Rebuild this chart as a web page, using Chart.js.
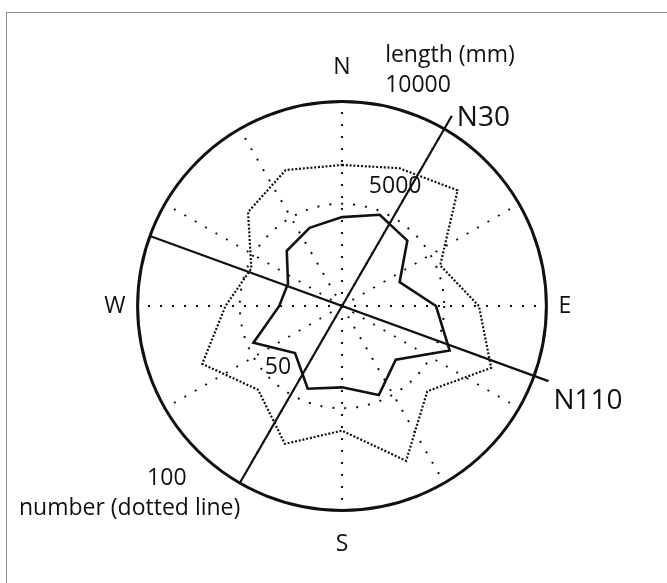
<!DOCTYPE html>
<html>
<head>
<meta charset="utf-8">
<title>Fracture rose</title>
<script src="https://cdn.jsdelivr.net/npm/chart.js@4.4.1/dist/chart.umd.min.js"></script>
<style>
    html, body { margin: 0; padding: 0; background: #fff; }
    #wrap { position: relative; width: 667px; height: 583px; overflow: hidden; }
    #frame { position: absolute; left: 6px; top: 12px; right: -10px; bottom: -10px; border: 1.5px solid #8c8c8c; }
    #rose { position: absolute; left: 0; top: 0; }
</style>
</head>
<body>
<div id="wrap">
    <div id="frame"></div>
    <canvas id="rose" width="667" height="583"></canvas>
</div>
<script>
// bins every 22.5 degrees, clockwise from north
const binAzimuths = [0, 22.5, 45, 67.5, 90, 112.5, 135, 157.5, 180, 202.5, 225, 247.5, 270, 292.5, 315, 337.5];
// cumulated length per bin (mm)
const lengthMm = [4350, 4830, 4520, 3050, 4600, 5700, 3720, 4710, 3980, 4380, 3250, 4690, 3070, 2860, 3820, 4140];
// number of fractures per bin
const fractureCount = [69, 73, 80, 52, 67, 79, 59, 82, 61, 73, 58, 74, 57, 48, 65, 72];

const compassPoints = ['N', 'E', 'S', 'W'];
const lengthTicks = [5000, 10000];
const countTicks = [50, 100];
const trendAzimuths = [30, 110];
const trendNames = ['N30', 'N110'];
// outer end / inner end of the trend lines, in mm on the length ring
const trendReach = [10750, 10000];

const STEP = 2.5;
const SLOTS = 360 / STEP;
const slotOf = az => Math.round((az % 360) / STEP) % SLOTS;

// counts share the ring with length: 100 fractures = 10000 mm
const countToRing = lengthTicks[1] / countTicks[1];

function spread(values) {
    const arr = new Array(SLOTS).fill(null);
    binAzimuths.forEach((az, i) => { arr[slotOf(az)] = values[i]; });
    return arr;
}

function trendLine(az) {
    const arr = new Array(SLOTS).fill(null);
    arr[slotOf(az)] = trendReach[0];
    arr[slotOf(az + 180)] = trendReach[1];
    return arr;
}

const labels = Array.from({ length: SLOTS }, (_, i) => i % (SLOTS / 4) === 0 ? compassPoints[i / (SLOTS / 4)] : '');

const ink = '#111';
const textFont = '"Open Sans", "Noto Sans", sans-serif';

// free text around the rose, offsets in units of the ring radius
const annotations = [
    { text: 'length (mm)', dx: 0.211, dy: -1.228, align: 'left', size: 23 },
    { text: String(lengthTicks[1]), dx: 0.211, dy: -1.078, align: 'left', size: 23 },
    { text: String(lengthTicks[0]), dx: 0.26, dy: -0.583, align: 'center', size: 23 },
    { text: String(countTicks[0]), dx: -0.313, dy: 0.301, align: 'center', size: 23 },
    { text: String(countTicks[1]), dx: -0.857, dy: 0.845, align: 'center', size: 23 },
    { text: 'number (dotted line)', dx: -1.039, dy: 0.99, align: 'center', size: 23 }
];
// where the trend names sit relative to the outer end of each line
const trendLabelOffsets = [[5, 2], [5, 20]];

const roseText = {
    id: 'roseText',
    afterDraw(chart) {
        const r = chart.scales.r;
        const ctx = chart.ctx;
        const R = r.drawingArea;
        ctx.save();
        ctx.fillStyle = ink;
        ctx.textBaseline = 'middle';
        annotations.forEach(a => {
            ctx.font = a.size + 'px ' + textFont;
            ctx.textAlign = a.align;
            ctx.fillText(a.text, r.xCenter + a.dx * R, r.yCenter + a.dy * R);
        });
        ctx.font = '28px ' + textFont;
        ctx.textAlign = 'left';
        trendAzimuths.forEach((az, i) => {
            const p = r.getPointPositionForValue(slotOf(az), trendReach[0]);
            ctx.fillText(trendNames[i], p.x + trendLabelOffsets[i][0], p.y + trendLabelOffsets[i][1]);
        });
        ctx.restore();
    }
};

const datasets = [
    {
        data: spread(fractureCount.map(v => v * countToRing)),
        borderColor: ink,
        borderWidth: 2.2,
        borderDash: [2, 1.8],
        fill: false,
        spanGaps: true,
        pointRadius: 0
    },
    {
        data: spread(lengthMm),
        borderColor: ink,
        borderWidth: 2.6,
        fill: false,
        spanGaps: true,
        pointRadius: 0
    }
];
trendAzimuths.forEach(az => {
    datasets.push({
        data: trendLine(az),
        borderColor: ink,
        borderWidth: 2.2,
        fill: false,
        spanGaps: true,
        pointRadius: 0
    });
});

new Chart(document.getElementById('rose'), {
    type: 'radar',
    data: { labels: labels, datasets: datasets },
    options: {
        responsive: false,
        animation: false,
        layout: { padding: { top: 55, bottom: 24, left: 18, right: 0 } },
        elements: { line: { tension: 0 }, point: { radius: 0, hitRadius: 0 } },
        plugins: { legend: { display: false }, tooltip: { enabled: false } },
        scales: {
            r: {
                min: 0,
                max: lengthTicks[1],
                startAngle: 0,
                ticks: { display: false, stepSize: lengthTicks[0] },
                grid: {
                    circular: true,
                    color: ink,
                    lineWidth: ctx => ctx.tick.value >= lengthTicks[1] ? 3 : 2
                },
                border: {
                    dash: ctx => ctx.tick.value >= lengthTicks[1] ? [] : [2, 10]
                },
                angleLines: {
                    color: ink,
                    lineWidth: ctx => ctx.index % (SLOTS / 12) === 0 ? 2 : 0,
                    borderDash: [2, 10]
                },
                pointLabels: {
                    color: ink,
                    font: { family: textFont, size: 23 },
                    padding: ctx => ctx.index % (SLOTS / 2) === 0 ? 20 : 12
                }
            }
        }
    },
    plugins: [roseText]
});
</script>
</body>
</html>
